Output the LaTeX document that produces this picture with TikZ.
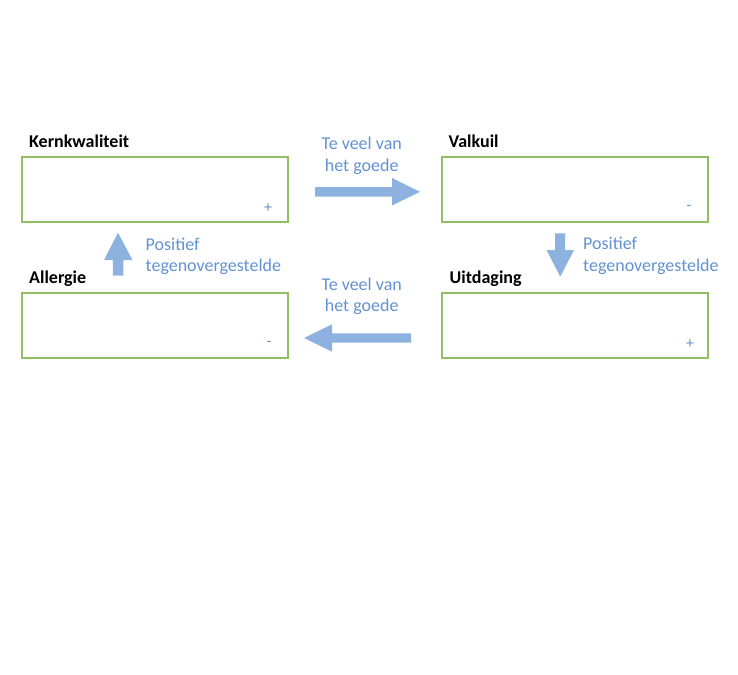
\documentclass[tikz,border=0pt]{standalone}
\usepackage{fontspec}
\setmainfont{Carlito}
\definecolor{boxgreen}{RGB}{146,190,100}
\definecolor{arrowblue}{RGB}{142,178,224}
\definecolor{textblue}{RGB}{98,146,212}
\tikzset{
  card/.style={draw=boxgreen, line width=1.4pt, fill=white},
  title/.style={anchor=base west, inner sep=0pt, font=\bfseries\fontsize{18}{21}\selectfont, text=black},
  note/.style={anchor=base, inner sep=0pt, align=center, font=\fontsize{18}{21.7}\selectfont, text=textblue},
  lnote/.style={anchor=base west, inner sep=0pt, align=left, font=\fontsize{18}{21.7}\selectfont, text=textblue},
  sign/.style={inner sep=0pt, font=\fontsize{16}{18}\selectfont, text=textblue},
  fat/.style={fill=arrowblue, draw=none}
}
\begin{document}
\begin{tikzpicture}[x=1pt,y=-1pt]
\useasboundingbox (0,0) rectangle (738,674);
% boxes
\draw[card] (22,157) rectangle (288,222);
\draw[card] (442,157) rectangle (708,222);
\draw[card] (22,293) rectangle (288,358);
\draw[card] (442,293) rectangle (708,358);
% titles
\node[title] (tkk) at (29,147) {Kernkwaliteit};
\node[title] (tvk) at (448.5,147) {Valkuil};
\node[title] (tal) at (29,283) {Allergie};
\node[title] (tui) at (449.5,283) {Uitdaging};
% signs
\node[sign] (s1) at (268,208) {+};
\node[sign] (s2) at (689,208) {-};
\node[sign] (s3) at (269,344) {-};
\node[sign] (s4) at (690,344) {+};
% notes (anchor = baseline of the last line)
\node[note] (n1) at (361.7,171) {Te veel van\\het goede};
\node[note] (n2) at (361.7,311.7) {Te veel van\\het goede};
\node[lnote] (n3) at (145.5,271.7) {Positief\\tegenovergestelde};
\node[lnote] (n4) at (583,271.5) {Positief\\tegenovergestelde};
% arrows
\fill[fat] (315,187) -- (392,187) -- (392,178) -- (420,191.8) -- (392,205.5) -- (392,196.6) -- (315,196.6) -- cycle;
\fill[fat] (411,333.3) -- (332,333.3) -- (332,324.3) -- (304,338) -- (332,351.7) -- (332,342.7) -- (411,342.7) -- cycle;
\fill[fat] (112.8,275.7) -- (112.8,260) -- (104,260) -- (118,232.7) -- (132.5,260) -- (123.3,260) -- (123.3,275.7) -- cycle;
\fill[fat] (555,233.3) -- (565,233.3) -- (565,250) -- (574,250) -- (560.2,276.7) -- (546.5,250) -- (555,250) -- cycle;
\end{tikzpicture}
\end{document}
